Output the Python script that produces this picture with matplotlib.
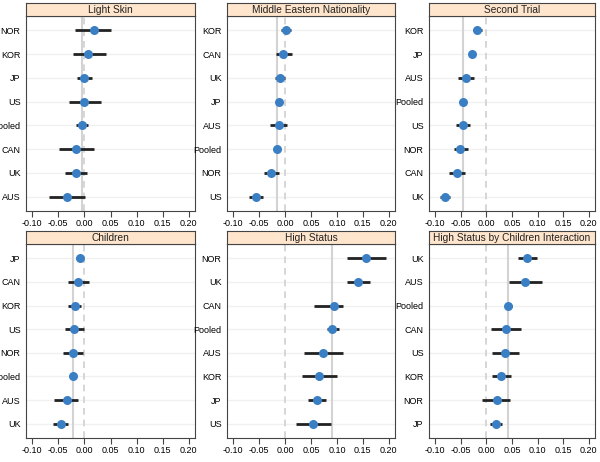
import numpy as np
import matplotlib
matplotlib.use("Agg")
import matplotlib.pyplot as plt

plt.rcParams['font.family'] = ['Liberation Sans', 'DejaVu Sans']

# panel titles, categories (bottom to top), estimates and CIs
titles = ['Light Skin', 'Middle Eastern Nationality', 'Second Trial',
          'Children', 'High Status', 'High Status by Children Interaction']

cats = [
    ['AUS', 'UK', 'CAN', 'Pooled', 'US', 'JP', 'KOR', 'NOR'],
    ['US', 'NOR', 'Pooled', 'AUS', 'JP', 'UK', 'CAN', 'KOR'],
    ['UK', 'CAN', 'NOR', 'US', 'Pooled', 'AUS', 'JP', 'KOR'],
    ['UK', 'AUS', 'Pooled', 'NOR', 'US', 'KOR', 'CAN', 'JP'],
    ['US', 'JP', 'KOR', 'AUS', 'Pooled', 'CAN', 'UK', 'NOR'],
    ['JP', 'NOR', 'KOR', 'US', 'CAN', 'Pooled', 'AUS', 'UK'],
]
est = [
    [-0.034, -0.0165, -0.0165, -0.005, -0.001, 0.0, 0.007, 0.0177],
    [-0.0563, -0.0266, -0.0165, -0.012, -0.0114, -0.0089, -0.004, 0.0025],
    [-0.081, -0.057, -0.0506, -0.046, -0.0455, -0.039, -0.0276, -0.018],
    [-0.0456, -0.034, -0.0228, -0.022, -0.0196, -0.019, -0.012, -0.0089],
    [0.054, 0.0618, 0.065, 0.0732, 0.091, 0.0949, 0.1414, 0.156],
    [0.0186, 0.020, 0.028, 0.037, 0.0385, 0.043, 0.075, 0.0788],
]
lo = [
    [-0.068, -0.037, -0.048, -0.016, -0.030, -0.015, -0.022, -0.0177],
    [-0.069, -0.040, -0.0196, -0.0285, -0.0146, -0.0196, -0.017, -0.007],
    [-0.091, -0.072, -0.064, -0.060, -0.050, -0.056, -0.032, -0.027],
    [-0.0595, -0.058, -0.027, -0.042, -0.037, -0.031, -0.0316, -0.0165],
    [0.0204, 0.0446, 0.0325, 0.0357, 0.0815, 0.056, 0.119, 0.1197],
    [0.0077, -0.0077, 0.011, 0.0115, 0.009, 0.036, 0.0442, 0.0615],
]
hi = [
    [0.002, 0.004, 0.018, 0.006, 0.031, 0.015, 0.0405, 0.0513],
    [-0.042, -0.0114, -0.0135, 0.0044, -0.008, 0.0006, 0.0127, 0.0114],
    [-0.0705, -0.0417, -0.036, -0.032, -0.041, -0.0237, -0.023, -0.009],
    [-0.0316, -0.0127, -0.0185, -0.002, -0.0006, -0.0057, 0.0095, -0.002],
    [0.0885, 0.079, 0.0994, 0.111, 0.104, 0.1115, 0.163, 0.195],
    [0.0308, 0.0468, 0.0474, 0.064, 0.068, 0.050, 0.109, 0.0987],
]
xticks = [-0.10, -0.05, 0.00, 0.05, 0.10, 0.15, 0.20]

W, H = 600, 462
fig = plt.figure(figsize=(W / 100, H / 100), dpi=100)

lefts = [26, 227, 429]
rights = [195, 395, 595]
strip_tops = [3, 231]
strip_h = 13
bottoms = [211, 438]

for i in range(6):
    r, c = divmod(i, 3)
    x0, x1 = lefts[c], rights[c]
    top = strip_tops[r] + strip_h
    ax = fig.add_axes([x0 / W, 1 - bottoms[r] / H, (x1 - x0) / W, (bottoms[r] - top) / H])
    sx = fig.add_axes([x0 / W, 1 - top / H, (x1 - x0) / W, strip_h / H])

    sx.set_facecolor('#ffe5cc')
    sx.set_xticks([])
    sx.set_yticks([])
    for s in sx.spines.values():
        s.set_color('#444444')
        s.set_linewidth(0.8)
    sx.text(0.5, 0.45, titles[i], ha='center', va='center', fontsize=7.3, color='#222222',
            transform=sx.transAxes)

    y = np.arange(1, 9)
    e = np.array(est[i])
    l = np.array(lo[i])
    h = np.array(hi[i])
    for yy in y:
        ax.axhline(yy, color='#f0f0f0', lw=1, zorder=0)
    ax.axvline(0, color='#d0d0d0', lw=1.2, ls=(0, (4, 3)), zorder=1)
    pooled = e[cats[i].index('Pooled')]
    ax.axvline(pooled, color='#d3d3d3', lw=1.5, zorder=1)
    ax.hlines(y, l, h, color='#222222', lw=2, zorder=2)
    ax.plot(e, y, 'o', color='#3a7fc4', markersize=6.5, markeredgewidth=0, zorder=3)

    ax.set_xlim(-0.112, 0.212)
    ax.set_ylim(0.4, 8.6)
    ax.set_yticks(y)
    ax.set_yticklabels(cats[i])
    ax.set_xticks(xticks)
    ax.set_xticklabels(['%.2f' % t for t in xticks])
    ax.tick_params(axis='x', length=4, width=0.8, labelsize=6.5, pad=2, color='#444444')
    ax.tick_params(axis='y', length=0, labelsize=6.5, pad=4)
    for s in ax.spines.values():
        s.set_color('#444444')
        s.set_linewidth(0.8)

fig.savefig('out.png', dpi=100)
